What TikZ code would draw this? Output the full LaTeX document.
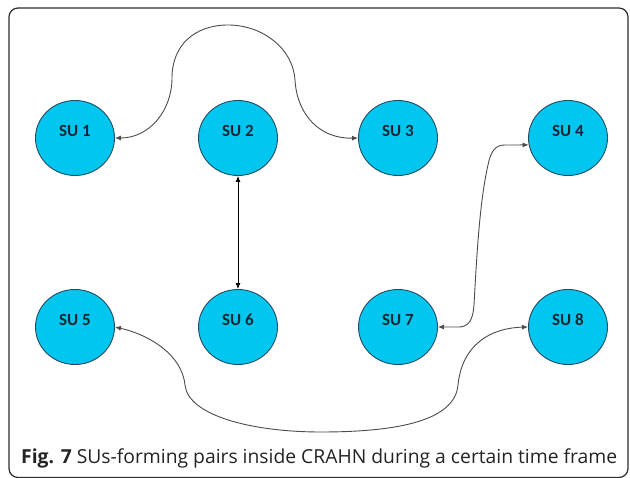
\documentclass[tikz,border=0pt]{standalone}
\usepackage{fontspec}
\setmainfont{Open Sans}
\newfontfamily\labelfont{Carlito}
\usetikzlibrary{shapes.geometric,arrows.meta}

\definecolor{sufill}{RGB}{0,198,240}
\definecolor{suedge}{RGB}{35,75,95}
\definecolor{sutext}{RGB}{20,38,52}
\definecolor{linkgray}{RGB}{75,75,75}
\definecolor{framegray}{RGB}{45,45,45}
\definecolor{captext}{RGB}{35,35,35}

\tikzset{
  su/.style={ellipse, draw=suedge, fill=sufill, line width=0.9pt,
             minimum width=79pt, minimum height=75pt, inner sep=0pt},
  sulabel/.style={font=\labelfont\bfseries\fontsize{17}{17}\selectfont,
                  text=sutext, inner sep=0pt},
  link/.style={draw=linkgray, line width=0.9pt,
               {Latex[length=6pt,width=5pt]}-{Latex[length=6pt,width=5pt]}},
  straightlink/.style={link, draw=black}
}

\begin{document}
\begin{tikzpicture}[x=1pt, y=-1pt]
  \useasboundingbox (0,0) rectangle (630,478);

  % outer panel
  \draw[framegray, line width=1.2pt, rounded corners=9pt]
    (9,8) rectangle (628,477.5);

  % secondary users
  \foreach \n/\x/\y in {1/75/138, 2/238/138, 3/398/138, 4/568/138,
                        5/75/327, 6/238/327, 7/398/327, 8/568/327} {
    \node[su] (s\n) at (\x,\y) {};
    \node[sulabel] (t\n) at (\x,\y-7) {SU \n};
  }

  % pair SU 1 -- SU 3 (arch over SU 2)
  \draw[link] (s1.east)
    .. controls (150,138) and (172,110) .. (172,78)
    .. controls (172,45) and (195,25) .. (228,25)
    .. controls (262,25) and (293,48) .. (295,80)
    .. controls (297,115) and (320,139) .. (s3.west);

  % pair SU 2 -- SU 6
  \draw[straightlink] (s2.south) -- (s6.north);

  % pair SU 7 -- SU 4
  \draw[link] (s7.east) -- (460,327)
    .. controls (470,326) and (473,318) .. (474,305)
    .. controls (477,250) and (480,200) .. (488,165)
    .. controls (491,150) and (496,145) .. (505,145)
    -- (s4.190);

  % pair SU 5 -- SU 8 (loop under the lower row)
  \draw[link] (s5.east)
    .. controls (150,335) and (182,355) .. (185,385)
    .. controls (188,415) and (250,432) .. (321,432)
    .. controls (400,432) and (455,420) .. (458,385)
    .. controls (462,345) and (490,328) .. (s8.west);

  % caption
  \node[anchor=base west, inner sep=0pt, text=captext,
        font=\fontsize{19.3}{19.3}\selectfont]
    (cap) at (21,464) {\textbf{Fig. 7} SUs-forming pairs inside CRAHN during a certain time frame};
\end{tikzpicture}
\end{document}
